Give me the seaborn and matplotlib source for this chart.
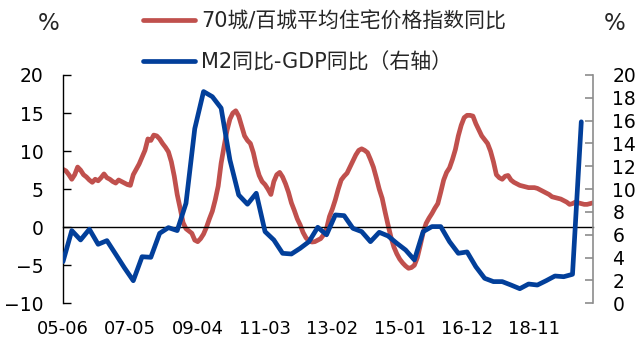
import pandas as pd
import matplotlib
matplotlib.use("Agg")
import matplotlib.pyplot as plt
import seaborn as sns

# Monthly axis: 2005-06 .. 2020-07
start_month = "2005-06"
end_month = "2020-07"

# 70-city / 100-city residential price index, YoY (%), monthly, left axis
house_yoy = [
    7.6, 7.4, 6.9, 6.3, 6.9, 7.9, 7.5, 6.9, 6.6, 6.2, 5.9, 6.3,
    6.1, 6.5, 7.0, 6.5, 6.3, 6.0, 5.8, 6.2, 6.0, 5.8, 5.6, 5.5,
    6.9, 7.6, 8.3, 9.2, 10.1, 11.6, 11.4, 12.1, 12.0, 11.6, 11.0, 10.5,
    9.9, 8.6, 6.7, 4.3, 2.5, 0.6, -0.2, -0.5, -0.8, -1.7, -1.9, -1.5,
    -0.9, 0.0, 1.1, 2.1, 3.6, 5.4, 8.4, 10.6, 12.7, 14.2, 15.0, 15.3,
    14.6, 13.3, 12.0, 11.4, 11.0, 9.8, 8.1, 6.8, 6.0, 5.6, 5.0, 4.3,
    6.0, 6.9, 7.2, 6.6, 5.7, 4.6, 3.2, 2.2, 1.1, 0.3, -0.7, -1.4,
    -1.8, -1.95, -1.9, -1.7, -1.5, -1.0, -0.2, 1.4, 2.4, 3.6, 5.0, 6.2,
    6.7, 7.1, 7.9, 8.7, 9.5, 10.1, 10.3, 10.1, 9.8, 8.9, 7.9, 6.5,
    5.0, 3.8, 2.0, 0.3, -1.3, -2.6, -3.5, -4.2, -4.7, -5.1, -5.4, -5.3,
    -5.0, -4.0, -2.4, -0.7, 0.5, 1.2, 1.8, 2.5, 3.1, 4.6, 6.2, 7.2,
    7.8, 8.9, 10.2, 12.0, 13.4, 14.4, 14.7, 14.7, 14.6, 13.6, 12.8, 12.0,
    11.5, 11.0, 10.0, 8.6, 6.9, 6.5, 6.3, 6.7, 6.8, 6.2, 5.9, 5.7,
    5.5, 5.4, 5.3, 5.2, 5.2, 5.2, 5.1, 4.9, 4.7, 4.5, 4.3, 4.0,
    3.9, 3.8, 3.7, 3.5, 3.3, 3.0, 3.1, 3.3, 3.2, 3.1, 3.0, 3.0,
    3.1, 3.2,
]

# M2 YoY minus GDP YoY (%), quarterly 2005Q2 .. 2020Q1, right axis
m2_gdp_gap = [
    3.65, 6.37, 5.55, 6.49, 5.17, 5.49, 4.3, 3.1, 1.98, 4.08,
    4.03, 6.13, 6.63, 6.37, 8.76, 15.3, 18.55, 18.1, 17.1, 12.56,
    9.49, 8.68, 9.64, 6.28, 5.55, 4.38, 4.32, 4.82, 5.4, 6.66,
    6.0, 7.74, 7.68, 6.57, 6.28, 5.4, 6.22, 5.9, 5.26, 4.67,
    3.8, 6.28, 6.72, 6.72, 5.4, 4.38, 4.5, 3.2, 2.19, 1.9,
    1.9, 1.6, 1.28, 1.69, 1.6, 1.98, 2.39, 2.33, 2.54, 15.9,
]
quarter_start = "2005-06"

tick_labels = ["05-06", "07-05", "09-04", "11-03", "13-02", "15-01", "16-12", "18-11"]

series_names = ["70城/百城平均住宅价格指数同比", "M2同比-GDP同比（右轴）"]

RED = "#C0504D"
BLUE = "#023F9A"

months = pd.period_range(start_month, end_month, freq="M")
month_pos = {p: i for i, p in enumerate(months)}

df_house = pd.DataFrame({"pos": range(len(months)), "yoy": house_yoy})
q_months = pd.period_range(quarter_start, periods=len(m2_gdp_gap) * 3, freq="M")[::3]
df_gap = pd.DataFrame({"pos": [month_pos[p] for p in q_months], "gap": m2_gdp_gap})

tick_pos = [month_pos[pd.Period("20" + s, freq="M")] for s in tick_labels]

sns.set_theme(style="white")
plt.rcParams["font.family"] = ["DejaVu Sans", "Noto Sans CJK SC"]

W, H = 639, 342
fig = plt.figure(figsize=(W / 100, H / 100), dpi=100)
ax = fig.add_axes([63 / W, 1 - 303.3 / H, 530 / W, 228.3 / H])
ax2 = ax.twinx()

sns.lineplot(data=df_house, x="pos", y="yoy", ax=ax, color=RED, lw=3.4,
             label=series_names[0], legend=False)
sns.lineplot(data=df_gap, x="pos", y="gap", ax=ax2, color=BLUE, lw=3.4,
             label=series_names[1], legend=False)

ax.set_xlim(0, len(months) - 1)
ax.set_ylim(-10, 20)
ax2.set_ylim(0, 20)
ax.set_yticks(range(-10, 21, 5))
ax2.set_yticks(range(0, 21, 2))
ax.set_xticks(tick_pos)
ax.set_xticklabels(tick_labels)
for a in (ax, ax2):
    a.set_xlabel("")
    a.set_ylabel("")

# spines
ax.spines["top"].set_visible(False)
ax.spines["right"].set_visible(False)
ax.spines["bottom"].set_position(("data", 0))
ax.spines["bottom"].set_color("black")
ax.spines["left"].set_color("black")
for s in ("top", "bottom", "left"):
    ax2.spines[s].set_visible(False)
ax2.spines["right"].set_color("#8C8C8C")
ax2.spines["right"].set_linewidth(1.2)
ax.spines["left"].set_linewidth(1.0)
ax.spines["bottom"].set_linewidth(1.0)

ax.tick_params(axis="x", direction="in", length=6, width=1, color="#595959",
               pad=66.5, labelsize=13, labelcolor="black")
ax.tick_params(axis="y", direction="in", length=6, width=1, color="black",
               pad=14, labelsize=13.5, labelcolor="black")
ax2.tick_params(axis="y", direction="in", length=6, width=1.2, color="#8C8C8C",
                pad=14, labelsize=13.5, labelcolor="black")

fig.text(49 / W, 1 - 24 / H, "%", ha="center", va="center", fontsize=16.5)
fig.text(615 / W, 1 - 24 / H, "%", ha="center", va="center", fontsize=16.5)

handles = ax.get_lines()[:1] + ax2.get_lines()[:1]
fig.legend(handles, series_names, loc="upper left",
           bbox_to_anchor=(143 / W, 1 - 11 / H), frameon=False,
           prop={"family": ["DejaVu Sans", "Noto Sans CJK SC"], "size": 15},
           handlelength=2.5, handletextpad=0.3, labelspacing=1.0,
           borderpad=0, borderaxespad=0)

fig.savefig("out.png", dpi=100)
